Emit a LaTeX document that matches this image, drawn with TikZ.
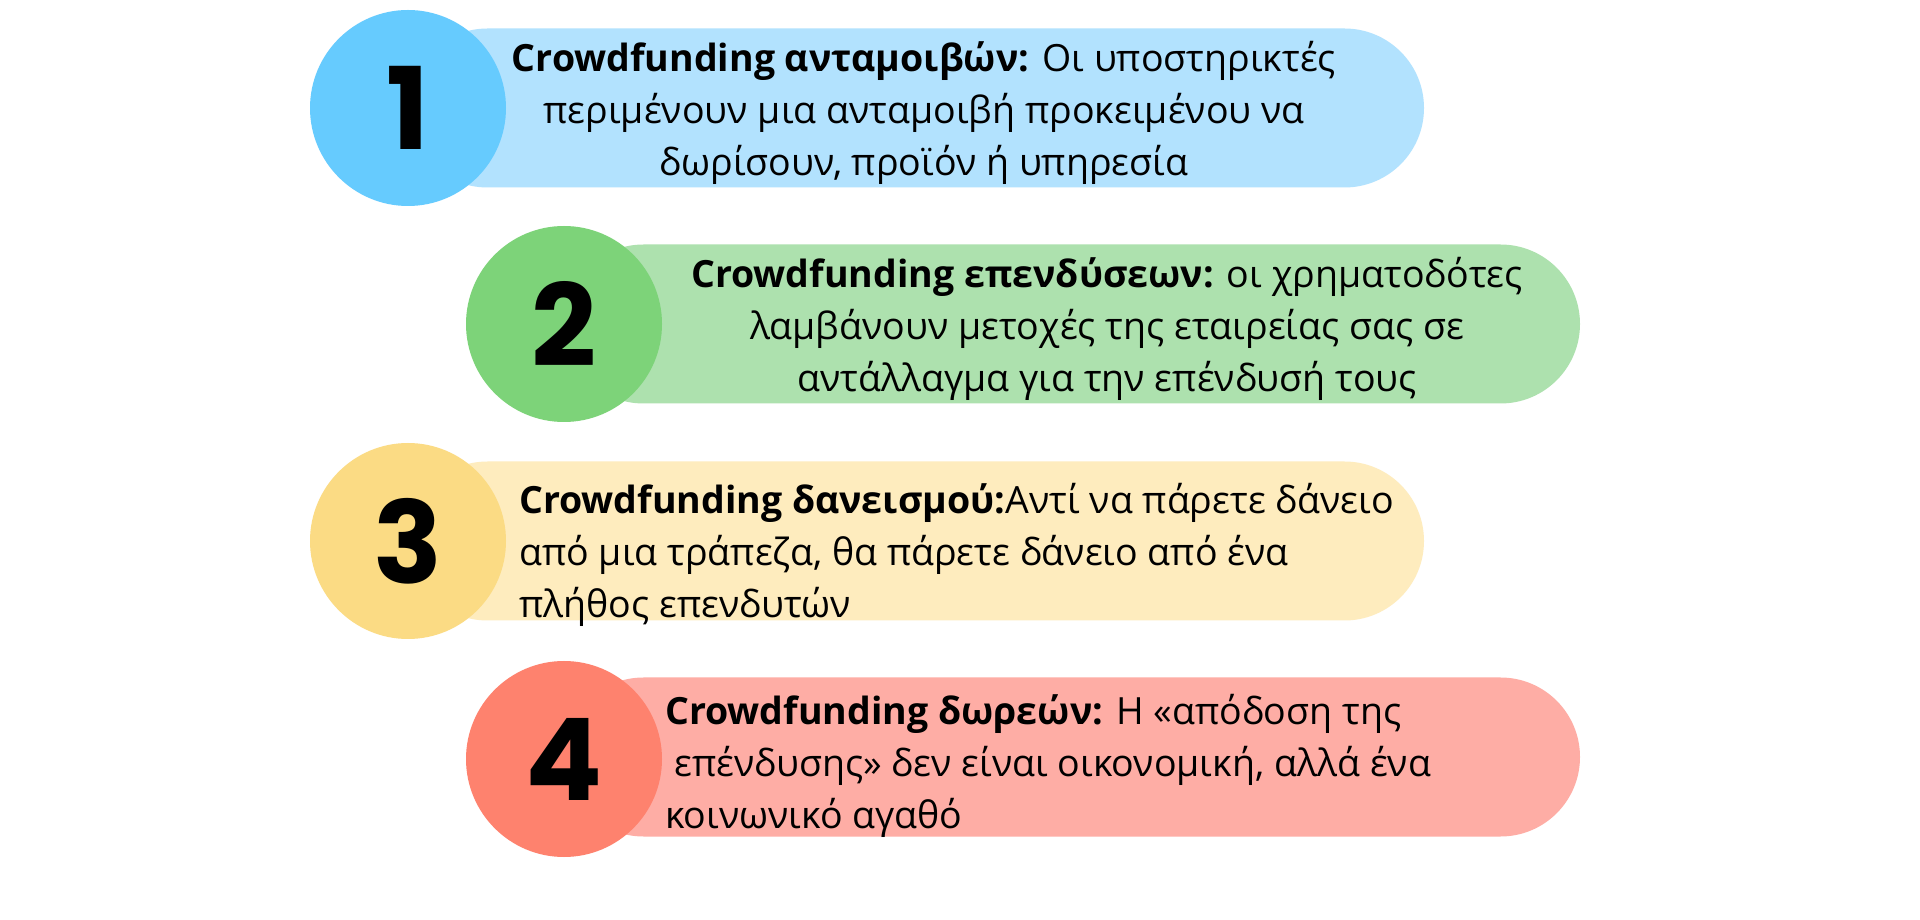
\documentclass[tikz,border=0pt]{standalone}
\usepackage{fontspec}
\setmainfont{Open Sans}
\newfontfamily\numfont{Poppins}
\definecolor{cA}{HTML}{66CBFE}
\definecolor{bA}{HTML}{B2E2FE}
\definecolor{cB}{HTML}{7DD379}
\definecolor{bB}{HTML}{ADE1AE}
\definecolor{cC}{HTML}{FBDB84}
\definecolor{bC}{HTML}{FEECBE}
\definecolor{cD}{HTML}{FE826E}
\definecolor{bD}{HTML}{FEADA5}
\tikzset{
  bar/.style={rectangle, rounded corners=79.5pt, minimum width=1016pt, minimum height=159pt, inner sep=0pt},
  num/.style={circle, minimum size=196pt, inner sep=0pt, font=\numfont\bfseries\fontsize{114}{114}\selectfont},
  txt/.style={inner sep=0pt, font=\fontsize{37.5}{52}\selectfont, text depth=0pt}
}
\begin{document}
\begin{tikzpicture}[x=1pt,y=1pt]
\useasboundingbox (0,0) rectangle (1920,919);
\fill[white] (0,0) rectangle (1920,919);
% row 1
\node[bar, fill=bA] (b1) at (916,811) {};
\node[num, fill=cA] (c1) at (408,811) {1};
\node[txt, align=center] (t1) at (924,811) {\textbf{Crowdfunding ανταμοιβών:} Οι υποστηρικτές\\περιμένουν μια ανταμοιβή προκειμένου να\\δωρίσουν, προϊόν ή υπηρεσία};
% row 2
\node[bar, fill=bB] (b2) at (1072,595) {};
\node[num, fill=cB] (c2) at (564,595) {2};
\node[txt, align=center] (t2) at (1107,595) {\textbf{Crowdfunding επενδύσεων:} οι χρηματοδότες\\λαμβάνουν μετοχές της εταιρείας σας σε\\αντάλλαγμα για την επένδυσή τους};
% row 3
\node[bar, fill=bC] (b3) at (916,378) {};
\node[num, fill=cC] (c3) at (408,378) {3};
\node[txt, align=left, anchor=west] (t3) at (519,369) {\textbf{Crowdfunding δανεισμού:}Αντί να πάρετε δάνειο\\από μια τράπεζα, θα πάρετε δάνειο από ένα\\πλήθος επενδυτών};
% row 4
\node[bar, fill=bD] (b4) at (1072,162) {};
\node[num, fill=cD] (c4) at (564,160) {4};
\node[txt, align=left, anchor=west] (t4) at (665,158) {\textbf{Crowdfunding δωρεών:} Η «απόδοση της\\\hspace*{0.25em}επένδυσης» δεν είναι οικονομική, αλλά ένα\\κοινωνικό αγαθό};
\end{tikzpicture}
\end{document}
